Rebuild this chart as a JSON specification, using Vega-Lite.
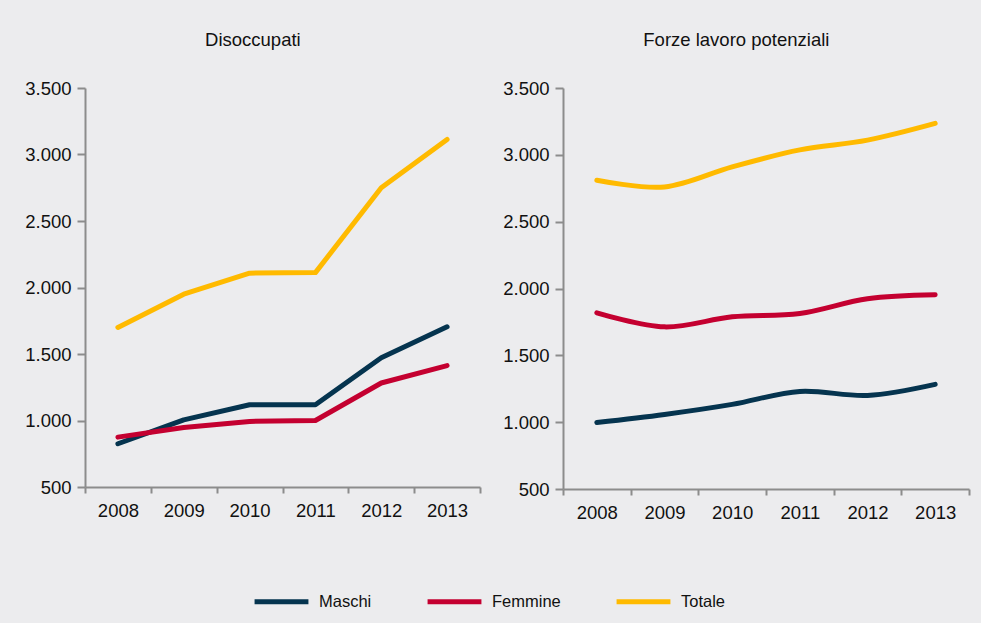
{
  "$schema": "https://vega.github.io/schema/vega-lite/v6.json",
  "background": "#ECECEE",
  "padding": {"left": 24, "top": 30, "right": 16, "bottom": 16},
  "config": {
    "locale": {"number": {"decimal": ",", "thousands": ".", "grouping": [3], "currency": ["", " €"]}},
    "font": "Liberation Sans",
    "view": {"stroke": null},
    "axis": {"domainColor": "#8C8C8C", "domainWidth": 2, "tickColor": "#8C8C8C", "tickWidth": 2, "labelFont": "Liberation Sans", "labelFontSize": 18.5, "labelColor": "#111111", "grid": false, "title": null},
    "title": {"font": "Liberation Sans", "fontSize": 18.5, "fontWeight": "normal", "color": "#111111", "offset": 30, "frame": "bounds", "anchor": "middle"},
    "concat": {"spacing": 21}
  },
  "datasets": {
    "disoccupati": [
      {"anno": "2008", "serie": "Maschi", "valore": 825},
      {"anno": "2009", "serie": "Maschi", "valore": 1005},
      {"anno": "2010", "serie": "Maschi", "valore": 1118},
      {"anno": "2011", "serie": "Maschi", "valore": 1118},
      {"anno": "2012", "serie": "Maschi", "valore": 1472},
      {"anno": "2013", "serie": "Maschi", "valore": 1705},
      {"anno": "2008", "serie": "Femmine", "valore": 875},
      {"anno": "2009", "serie": "Femmine", "valore": 948},
      {"anno": "2010", "serie": "Femmine", "valore": 993},
      {"anno": "2011", "serie": "Femmine", "valore": 1000},
      {"anno": "2012", "serie": "Femmine", "valore": 1282},
      {"anno": "2013", "serie": "Femmine", "valore": 1413},
      {"anno": "2008", "serie": "Totale", "valore": 1700},
      {"anno": "2009", "serie": "Totale", "valore": 1950},
      {"anno": "2010", "serie": "Totale", "valore": 2108},
      {"anno": "2011", "serie": "Totale", "valore": 2112},
      {"anno": "2012", "serie": "Totale", "valore": 2750},
      {"anno": "2013", "serie": "Totale", "valore": 3113}
    ],
    "forze": [
      {"anno": "2008", "serie": "Maschi", "valore": 998},
      {"anno": "2009", "serie": "Maschi", "valore": 1058},
      {"anno": "2010", "serie": "Maschi", "valore": 1133},
      {"anno": "2011", "serie": "Maschi", "valore": 1230},
      {"anno": "2012", "serie": "Maschi", "valore": 1200},
      {"anno": "2013", "serie": "Maschi", "valore": 1283},
      {"anno": "2008", "serie": "Femmine", "valore": 1818},
      {"anno": "2009", "serie": "Femmine", "valore": 1713},
      {"anno": "2010", "serie": "Femmine", "valore": 1788},
      {"anno": "2011", "serie": "Femmine", "valore": 1813},
      {"anno": "2012", "serie": "Femmine", "valore": 1923},
      {"anno": "2013", "serie": "Femmine", "valore": 1953},
      {"anno": "2008", "serie": "Totale", "valore": 2810},
      {"anno": "2009", "serie": "Totale", "valore": 2760},
      {"anno": "2010", "serie": "Totale", "valore": 2910},
      {"anno": "2011", "serie": "Totale", "valore": 3037},
      {"anno": "2012", "serie": "Totale", "valore": 3110},
      {"anno": "2013", "serie": "Totale", "valore": 3235}
    ]
  },
  "hconcat": [
    {
      "title": "Disoccupati",
      "width": 395,
      "height": 399,
      "data": {"name": "disoccupati"},
      "mark": {"type": "line", "strokeWidth": 5, "strokeCap": "round", "strokeJoin": "round"},
      "encoding": {
        "x": {"field": "anno", "type": "ordinal", "scale": {"type": "band", "paddingInner": 0, "paddingOuter": 0}, "axis": {"labelAngle": 0, "tickBand": "extent", "tickSize": 6, "labelPadding": 8}},
        "y": {"field": "valore", "type": "quantitative", "scale": {"domain": [500, 3500], "zero": false, "nice": false}, "axis": {"values": [500, 1000, 1500, 2000, 2500, 3000, 3500], "format": ",d", "tickSize": 8, "labelPadding": 6}},
        "color": {"field": "serie", "type": "nominal", "scale": {"domain": ["Maschi", "Femmine", "Totale"], "range": ["#05344F", "#C40030", "#FFBA00"]},
          "legend": {"title": null, "orient": "none", "legendX": 167, "legendY": 484, "direction": "horizontal", "symbolType": "stroke", "symbolSize": 2900, "symbolStrokeWidth": 5, "labelFontSize": 16.5, "labelFont": "Liberation Sans", "labelColor": "#111111", "columnPadding": 45, "labelOffset": 8}}
      }
    },
    {
      "title": "Forze lavoro potenziali",
      "width": 406,
      "height": 401,
      "data": {"name": "forze"},
      "mark": {"type": "line", "strokeWidth": 5, "strokeCap": "round", "strokeJoin": "round", "interpolate": "catmull-rom"},
      "encoding": {
        "x": {"field": "anno", "type": "ordinal", "scale": {"type": "band", "paddingInner": 0, "paddingOuter": 0}, "axis": {"labelAngle": 0, "tickBand": "extent", "tickSize": 6, "labelPadding": 8}},
        "y": {"field": "valore", "type": "quantitative", "scale": {"domain": [500, 3500], "zero": false, "nice": false}, "axis": {"values": [500, 1000, 1500, 2000, 2500, 3000, 3500], "format": ",d", "tickSize": 8, "labelPadding": 6}},
        "color": {"field": "serie", "type": "nominal", "scale": {"domain": ["Maschi", "Femmine", "Totale"], "range": ["#05344F", "#C40030", "#FFBA00"]},
          "legend": {"title": null, "orient": "none", "legendX": 167, "legendY": 484, "direction": "horizontal", "symbolType": "stroke", "symbolSize": 2900, "symbolStrokeWidth": 5, "labelFontSize": 16.5, "labelFont": "Liberation Sans", "labelColor": "#111111", "columnPadding": 45, "labelOffset": 8}}
      }
    }
  ],
  "resolve": {"scale": {"color": "shared"}, "legend": {"color": "shared"}}
}
